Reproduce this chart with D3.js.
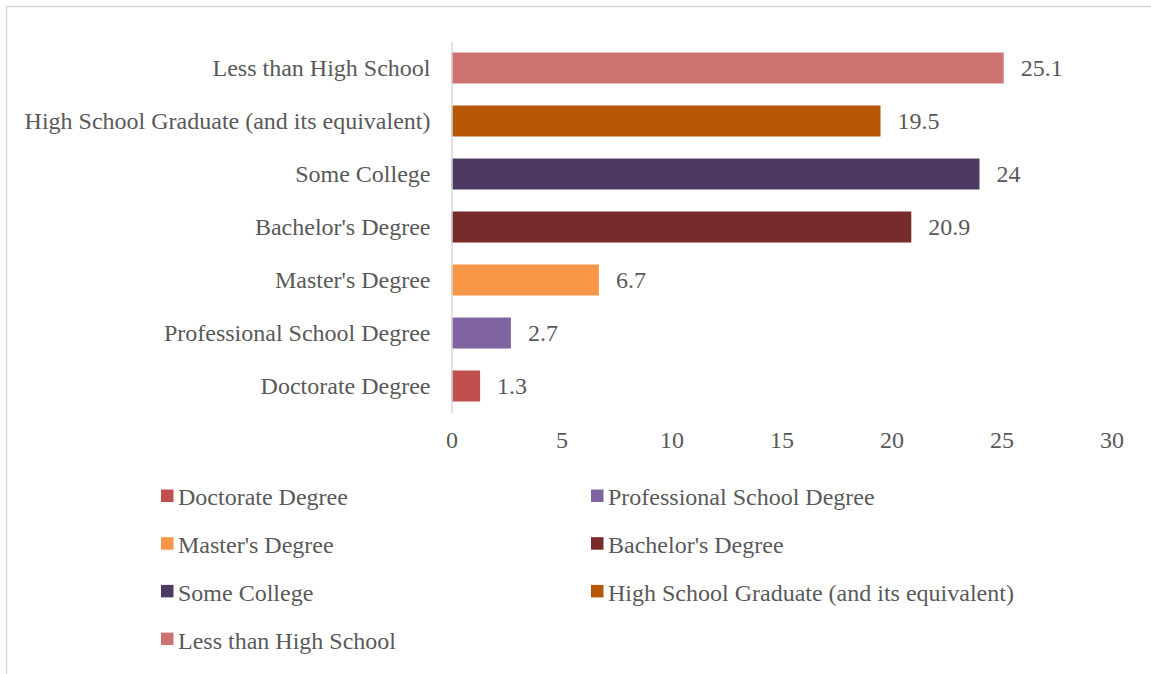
<!DOCTYPE html>
<html>
<head>
<meta charset="utf-8">
<script src="https://cdn.jsdelivr.net/npm/d3@7"></script>
<style>
  html, body { margin: 0; padding: 0; background: #fff; overflow: hidden; }
  svg { display: block; }
  text { font-family: "Liberation Serif", "Times New Roman", serif; fill: #595959; }
</style>
</head>
<body>
<svg id="chart" width="1151" height="674"></svg>
<script>
// Educational attainment shares (%), listed top to bottom as drawn
const categories = [
  "Less than High School",
  "High School Graduate (and its equivalent)",
  "Some College",
  "Bachelor's Degree",
  "Master's Degree",
  "Professional School Degree",
  "Doctorate Degree"
];
const values = [25.1, 19.5, 24, 20.9, 6.7, 2.7, 1.3];
const colors = ["#CD7270", "#B65708", "#4D3A61", "#772B2A", "#F79646", "#8064A2", "#C0504D"];
const xTicks = [0, 5, 10, 15, 20, 25, 30];
// legend order (row-major, two columns)
const legendOrder = [
  "Doctorate Degree",
  "Professional School Degree",
  "Master's Degree",
  "Bachelor's Degree",
  "Some College",
  "High School Graduate (and its equivalent)",
  "Less than High School"
];

const svg = d3.select("#chart");
const fontSize = 24;

// chart frame (runs past the right and bottom edges of the view)
svg.append("rect")
  .attr("x", 6.5).attr("y", 6.5)
  .attr("width", 1200).attr("height", 700)
  .attr("fill", "#fff")
  .attr("stroke", "#D9D9D9").attr("stroke-width", 1.5);

const x = d3.scaleLinear().domain([0, 30]).range([451.5, 1111.5]);
const y = d3.scaleBand().domain(categories).range([41.5, 412.5]).paddingInner(0.415).paddingOuter(0.2075);

const colorOf = d3.scaleOrdinal().domain(categories).range(colors);

// bars
svg.append("g").selectAll("rect")
  .data(categories)
  .join("rect")
  .attr("x", x(0))
  .attr("y", d => y(d))
  .attr("width", (d, i) => x(values[i]) - x(0))
  .attr("height", y.bandwidth())
  .attr("fill", d => colorOf(d));

// value labels
svg.append("g").selectAll("text")
  .data(categories)
  .join("text")
  .attr("x", (d, i) => x(values[i]) + 17)
  .attr("y", d => y(d) + y.bandwidth() / 2)
  .attr("dy", "0.35em")
  .attr("font-size", fontSize)
  .text((d, i) => String(values[i]));

// category axis
const yAxis = svg.append("g")
  .attr("transform", `translate(${x(0)},0)`)
  .call(d3.axisLeft(y).tickSize(0).tickPadding(21));
yAxis.select(".domain").attr("stroke", "#D9D9D9").attr("stroke-width", 1.5);
yAxis.selectAll("text")
  .attr("font-size", fontSize)
  .attr("font-family", null)
  .attr("fill", "#595959")
  .attr("dy", "0.35em");

// value axis (labels only)
const xAxis = svg.append("g")
  .attr("transform", "translate(0,427)")
  .call(d3.axisBottom(x).tickValues(xTicks).tickSize(0).tickPadding(4));
xAxis.select(".domain").remove();
xAxis.selectAll("text")
  .attr("font-size", fontSize)
  .attr("font-family", null)
  .attr("fill", "#595959");

// legend
const legend = svg.append("g");
const items = legend.selectAll("g")
  .data(legendOrder)
  .join("g")
  .attr("transform", (d, i) => `translate(${i % 2 === 0 ? 161 : 591},${497 + Math.floor(i / 2) * 47.7})`);
items.append("rect")
  .attr("x", 0).attr("y", -7.5)
  .attr("width", 12.5).attr("height", 12.5)
  .attr("fill", d => colorOf(d));
items.append("text")
  .attr("x", 17)
  .attr("y", 0)
  .attr("dy", "0.35em")
  .attr("font-size", fontSize)
  .text(d => d);
</script>
</body>
</html>
